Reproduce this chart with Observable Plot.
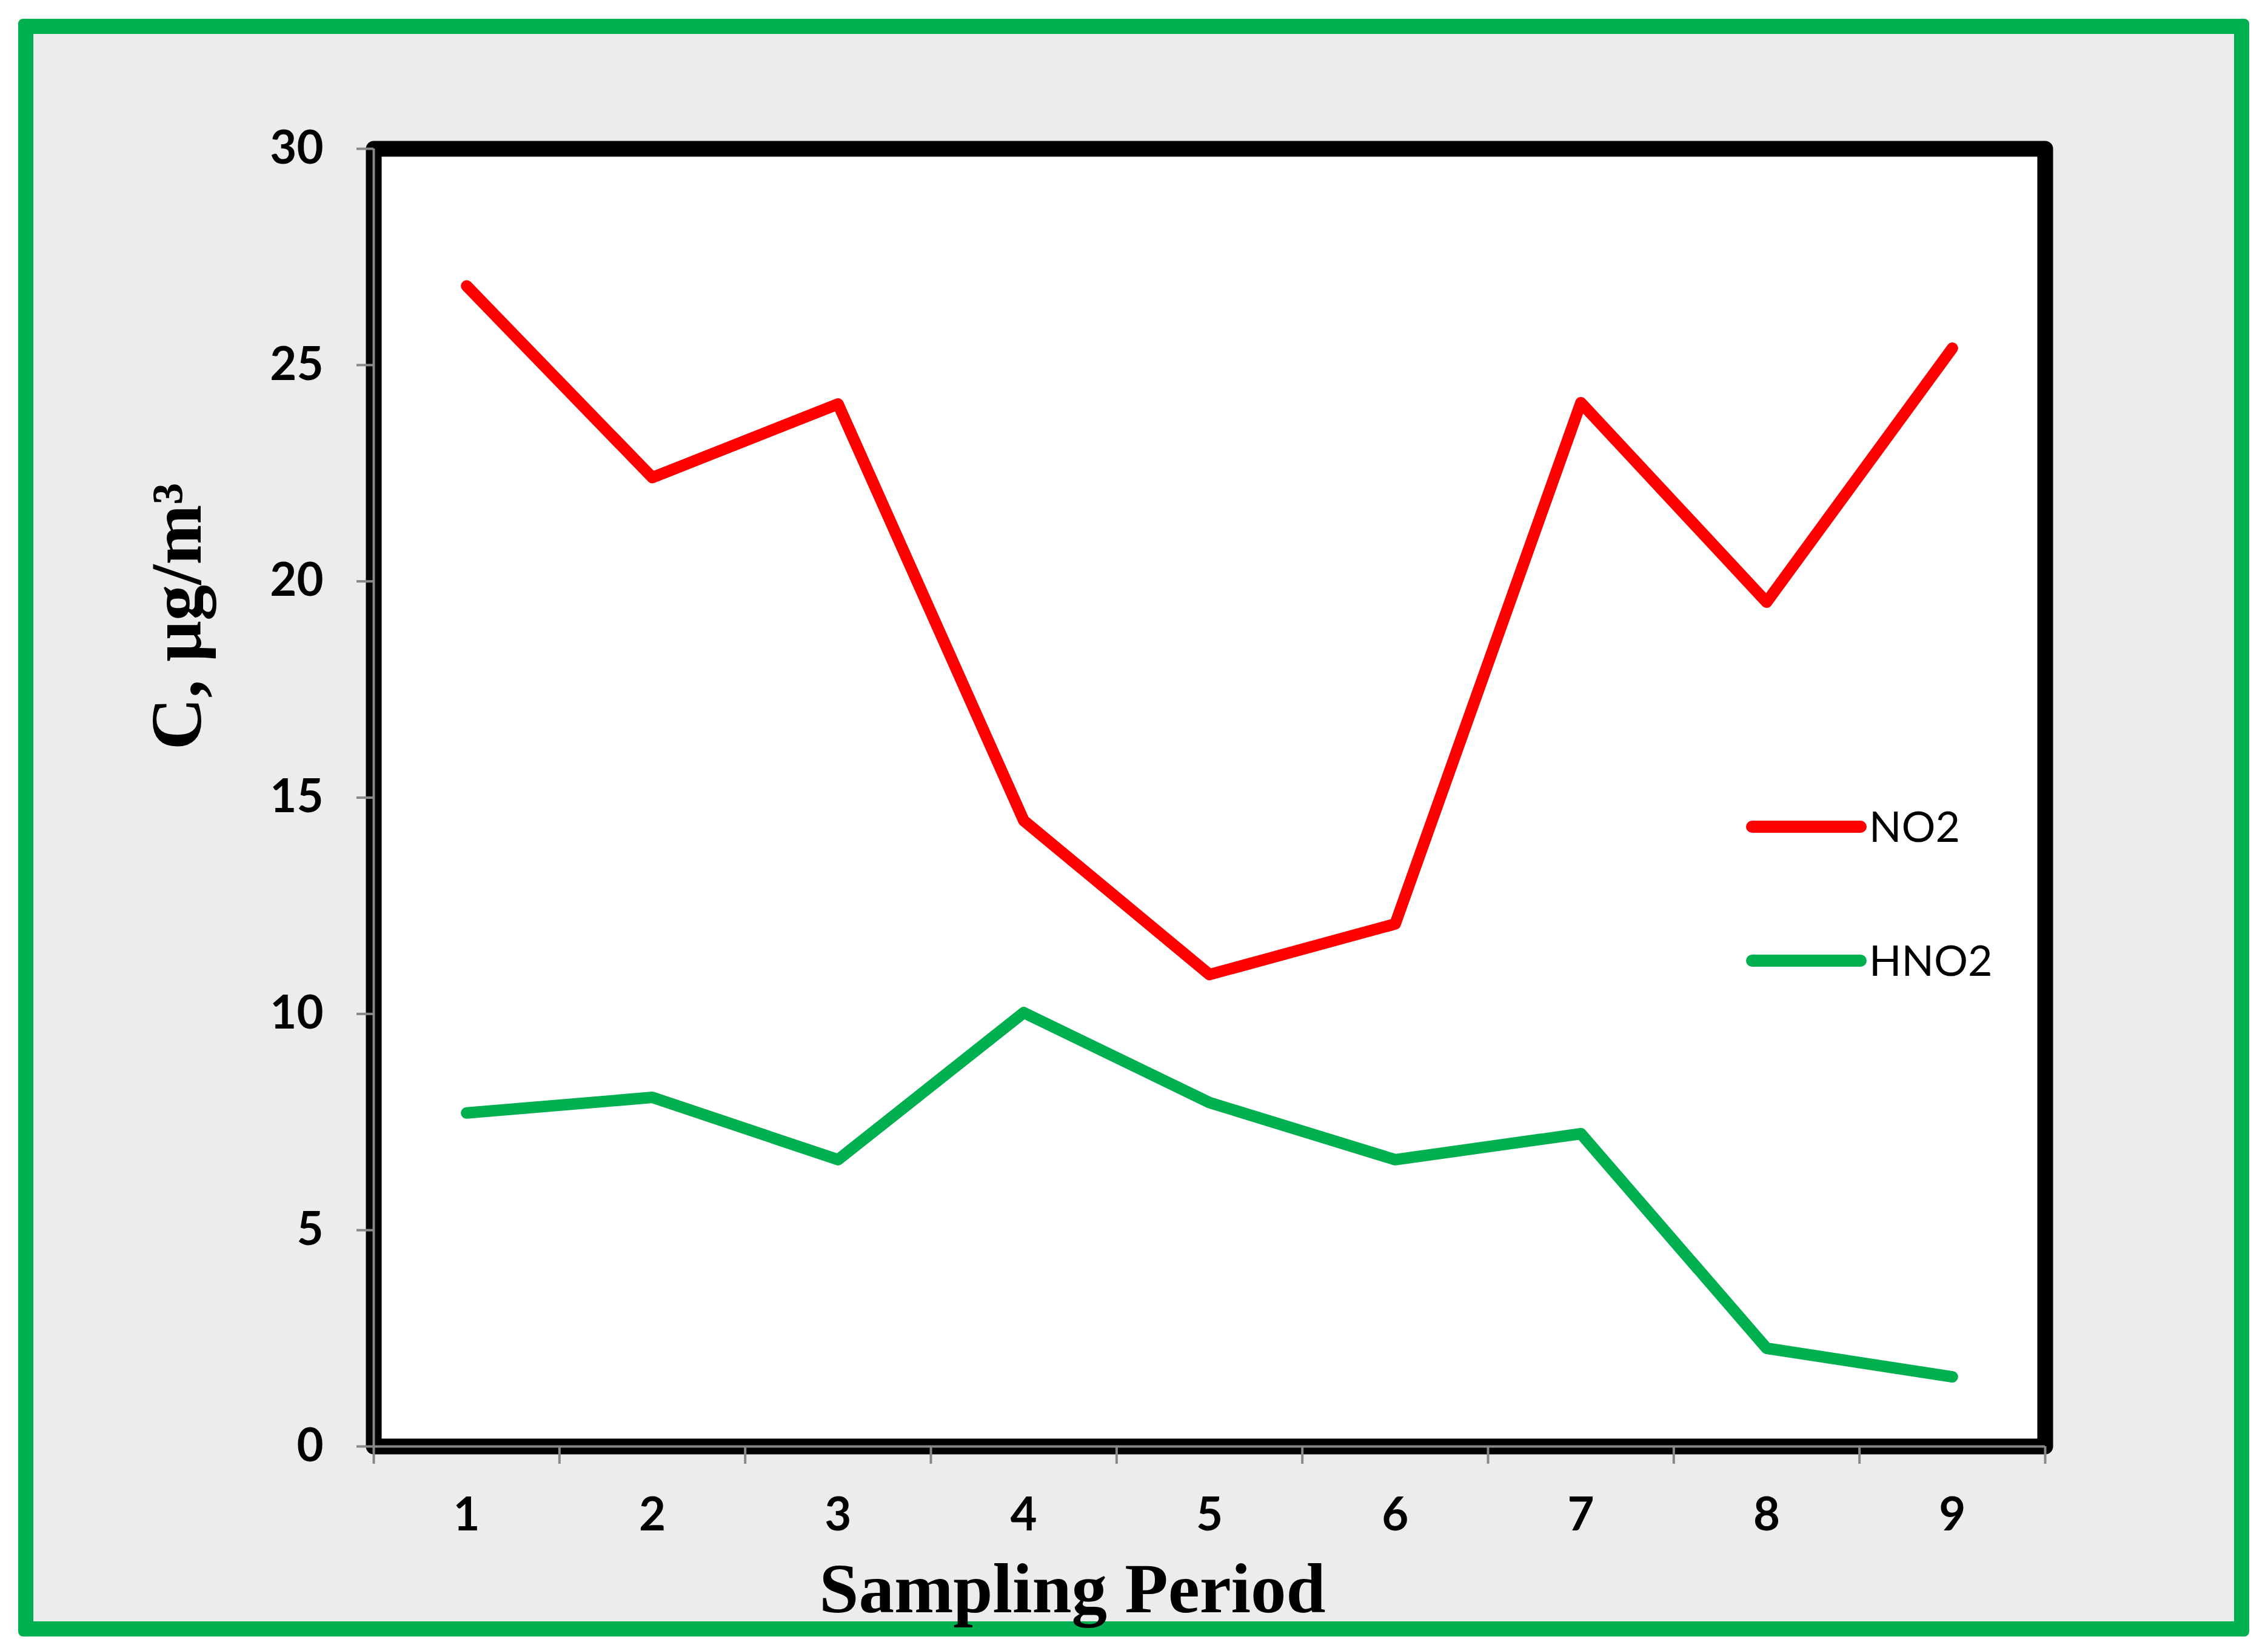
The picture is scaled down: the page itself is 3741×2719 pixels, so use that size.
<!DOCTYPE html>
<html>
<head>
<meta charset="utf-8">
<script src="https://cdn.jsdelivr.net/npm/d3@7"></script>
<script src="https://cdn.jsdelivr.net/npm/@observablehq/plot@0.6"></script>
<style>
  html, body { margin: 0; padding: 0; background: #ffffff; }
  body { width: 3741px; height: 2719px; position: relative; overflow: hidden; }
  #border { position: absolute; left: 30px; top: 31px; width: 3680px; height: 2669px; box-sizing: border-box;
            border: 25px solid #00B050; background: #ECECEC; border-radius: 8px; }
  #chart { position: absolute; left: 0; top: 0; }
  #chart svg { position: absolute; left: 0; top: 0; max-width: none; }
  #legend { position: absolute; left: 0; top: 0; }
</style>
</head>
<body>
<div id="border"></div>
<div id="chart"></div>
<svg id="legend" width="3741" height="2719"></svg>
<script>
// ---- data ----
const periods = [1, 2, 3, 4, 5, 6, 7, 8, 9];
const no2Values = [26.83, 22.40, 24.10, 14.47, 10.91, 12.08, 24.13, 19.52, 25.39];
const hno2Values = [7.71, 8.07, 6.63, 10.03, 7.95, 6.63, 7.23, 2.27, 1.61];
const seriesNames = ["NO2", "HNO2"];
const seriesColors = ["#FF0000", "#00B050"];
const yTicks = [0, 5, 10, 15, 20, 25, 30];
const xTitle = "Sampling Period";
const yTitle = "C, μg/m³";

const seriesValues = { NO2: no2Values, HNO2: hno2Values };
const rows = [];
for (const s of seriesNames) {
  periods.forEach((p, i) => rows.push({ period: p, value: seriesValues[s][i], series: s }));
}
// category boundaries for the tick marks between periods
const edges = periods.map(p => p - 0.5).concat([periods[periods.length - 1] + 0.5]);

const W = 3741, H = 2719;
const mL = 616, mR = 368, mT = 245, mB = 333;

const plot = Plot.plot({
  width: W, height: H,
  marginLeft: mL, marginRight: mR, marginTop: mT, marginBottom: mB,
  style: { background: "transparent", overflow: "visible" },
  x: { type: "linear", domain: [edges[0], edges[edges.length - 1]] },
  y: { domain: [0, 30] },
  color: { domain: seriesNames, range: seriesColors },
  marks: [
    Plot.frame({ fill: "white" }),
    Plot.line(rows, { x: "period", y: "value", z: "series", stroke: "series",
      strokeWidth: 19, strokeLinejoin: "round", strokeLinecap: "round" }),
    Plot.frame({ stroke: "black", strokeWidth: 26, strokeLinejoin: "round" }),
    Plot.ruleX([edges[0]], { stroke: "#888888", strokeWidth: 4 }),
    Plot.ruleY([0], { stroke: "#888888", strokeWidth: 4 }),
    Plot.axisY({ ticks: yTicks, tickSize: 28, tickPadding: 55, stroke: "#888888", strokeWidth: 4,
      fill: "black", fontSize: 76, fontFamily: "Lato", fontWeight: "bold", label: null }),
    Plot.axisX({ ticks: edges, tickSize: 29, stroke: "#888888", strokeWidth: 4,
      tickFormat: () => "", label: null }),
    Plot.axisX({ ticks: periods, tickSize: 0, tickPadding: 85, fill: "black",
      fontSize: 76, fontFamily: "Lato", fontWeight: "bold", label: null }),
    Plot.text([yTitle], { frameAnchor: "left", rotate: -90, dx: -324, dy: -299,
      text: d => d, lineAnchor: "middle", textAnchor: "middle",
      fontFamily: "Liberation Serif", fontWeight: "bold", fontSize: 119, fill: "black" }),
    Plot.text([xTitle], { frameAnchor: "bottom", dx: -226, dy: 236,
      text: d => d, lineAnchor: "middle", textAnchor: "middle",
      fontFamily: "Liberation Serif", fontWeight: "bold", fontSize: 117, fill: "black" })
  ]
});
document.getElementById("chart").appendChild(plot);

// ---- legend ----
const legend = d3.select("#legend");
const legendX1 = 2890, legendX2 = 3069, legendTextX = 3083;
const legendY = [1364, 1585];
seriesNames.forEach((s, i) => {
  legend.append("line")
    .attr("x1", legendX1).attr("x2", legendX2)
    .attr("y1", legendY[i]).attr("y2", legendY[i])
    .attr("stroke", seriesColors[i]).attr("stroke-width", 20).attr("stroke-linecap", "round");
  legend.append("text")
    .attr("x", legendTextX).attr("y", legendY[i]).attr("dy", "0.35em")
    .attr("font-family", "Lato").attr("font-size", 70).attr("fill", "black")
    .text(s);
});
</script>
</body>
</html>
